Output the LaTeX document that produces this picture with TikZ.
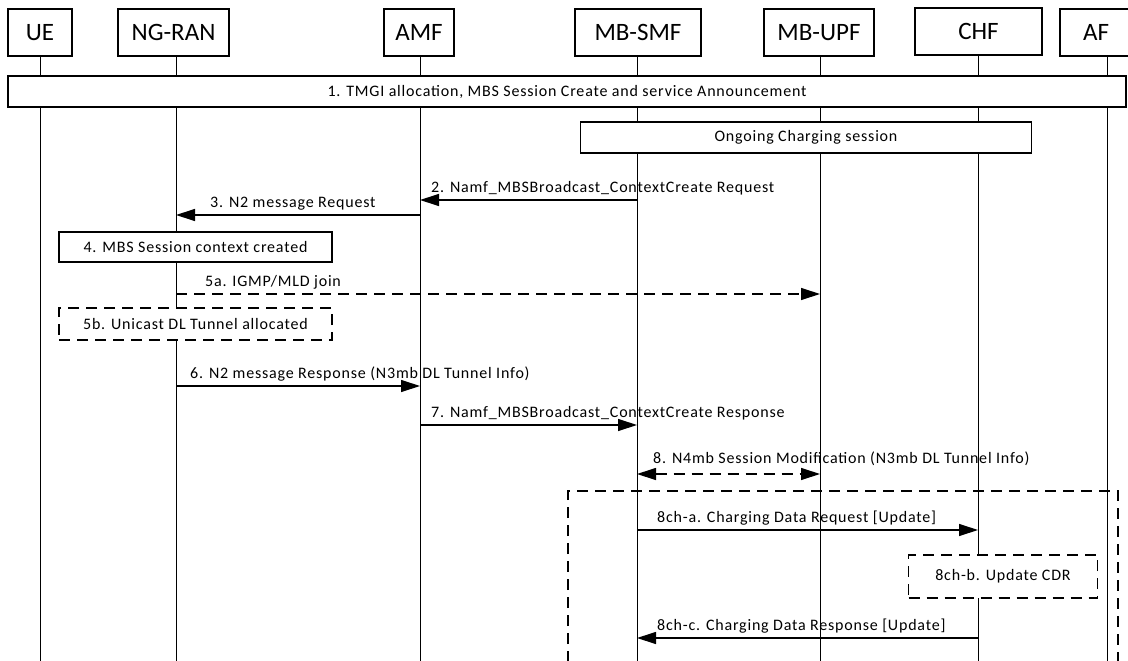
\documentclass[tikz,border=0pt]{standalone}
\usepackage{fontspec}
\setmainfont{Carlito}
\newfontfamily\lblfont[LetterSpace=5]{Carlito}
\usetikzlibrary{arrows.meta,calc}
\begin{document}
\begin{tikzpicture}[x=1pt,y=-1pt,
  hdr/.style={draw,line width=1.2pt,fill=white,inner sep=0pt,font=\fontsize{25}{29}\selectfont},
  life/.style={line width=1pt},
  stepbox/.style={draw,line width=1.2pt,fill=white,inner sep=0pt,font=\lblfont\fontsize{16}{19}\selectfont},
  dbox/.style={stepbox,dash pattern=on 11pt off 7pt},
  msg/.style={line width=1.2pt,-{Triangle[length=19pt,width=12pt]}},
  dmsg/.style={msg,dash pattern=on 11pt off 7pt},
  lbl/.style={anchor=base west,inner sep=0pt,font=\lblfont\fontsize{16}{19}\selectfont}]
\useasboundingbox (0,0) rectangle (1128,661);
% lifeline coordinates
\coordinate (lue) at (40,0);
\coordinate (lran) at (176,0);
\coordinate (lamf) at (420,0);
\coordinate (lsmf) at (637,0);
\coordinate (lupf) at (820,0);
\coordinate (lchf) at (978,0);
\coordinate (laf) at (1107,0);
% headers
\node[hdr,minimum width=64pt,minimum height=47pt] (ue) at (40,32.5) {UE};
\node[hdr,minimum width=111pt,minimum height=47pt] (ran) at (173.5,32.5) {NG-RAN};
\node[hdr,minimum width=70pt,minimum height=47pt] (amf) at (419,32.5) {AMF};
\node[hdr,minimum width=126pt,minimum height=47pt] (smf) at (638,32.5) {MB-SMF};
\node[hdr,minimum width=110pt,minimum height=47pt] (upf) at (819,32.5) {MB-UPF};
\node[hdr,minimum width=127pt,minimum height=47pt] (chf) at (978.5,31.5) {CHF};
\node[hdr,minimum width=72pt,minimum height=47pt] (af) at (1096,32.5) {AF};
% lifelines
\foreach \h/\l in {ue/lue,ran/lran,amf/lamf,smf/lsmf,upf/lupf,chf/lchf,af/laf}
  \draw[life] (\l |- \h.south) -- (\l |- 0,661);
% big dashed frame (open at bottom)
\coordinate (fbl) at (568,662);
\coordinate (ftl) at (568,491);
\coordinate (ftr) at (1118,491);
\coordinate (fbr) at (1118,662);
\draw[line width=1.2pt,dash pattern=on 11pt off 7pt] (fbl) -- (ftl) -- (ftr) -- (fbr);
% step 1
\node[stepbox,minimum width=1118pt,minimum height=31pt] (s1) at (567,91.5)
  {1. TMGI allocation, MBS Session Create and service Announcement};
\node[stepbox,minimum width=451pt,minimum height=31pt] (oc) at (806,137.5)
  {Ongoing Charging session};
% step 2
\draw[msg] (lsmf |- 0,200) -- (lamf |- 0,200);
\node[lbl] (t2) at (431,192) {2. Namf\_MBSBroadcast\_ContextCreate Request};
% step 3
\draw[msg] (lamf |- 0,215) -- (lran |- 0,215);
\node[lbl] (t3) at (210,207) {3. N2 message Request};
% step 4
\node[stepbox,minimum width=273pt,minimum height=30pt] (s4) at (195.5,247)
  {4. MBS Session context created};
% step 5a
\draw[dmsg] (lran |- 0,294) -- (lupf |- 0,294);
\node[lbl] (t5a) at (205,286) {5a. IGMP/MLD join};
% step 5b
\node[dbox,minimum width=273pt,minimum height=32pt] (s5b) at (195.5,324)
  {5b. Unicast DL Tunnel allocated};
% step 6
\draw[msg] (lran |- 0,386) -- (lamf |- 0,386);
\node[lbl] (t6) at (190,378) {6. N2 message Response (N3mb DL Tunnel Info)};
% step 7
\draw[msg] (lamf |- 0,425) -- (lsmf |- 0,425);
\node[lbl] (t7) at (431,417) {7. Namf\_MBSBroadcast\_ContextCreate Response};
% step 8
\draw[dmsg,{Triangle[length=19pt,width=12pt]}-{Triangle[length=19pt,width=12pt]}] (lsmf |- 0,474) -- (lupf |- 0,474);
\node[lbl] (t8) at (653,463) {8. N4mb Session Modification (N3mb DL Tunnel Info)};
% 8ch-a
\draw[msg] (lsmf |- 0,530) -- (lchf |- 0,530);
\node[lbl] (t8a) at (657,522) {8ch-a. Charging Data Request [Update]};
% 8ch-b
\node[dbox,minimum width=189pt,minimum height=43pt] (s8b) at (1003,576.5)
  {8ch-b. Update CDR};
% 8ch-c
\draw[msg] (lchf |- 0,638) -- (lsmf |- 0,638);
\node[lbl] (t8c) at (657,630) {8ch-c. Charging Data Response [Update]};
\end{tikzpicture}
\end{document}
